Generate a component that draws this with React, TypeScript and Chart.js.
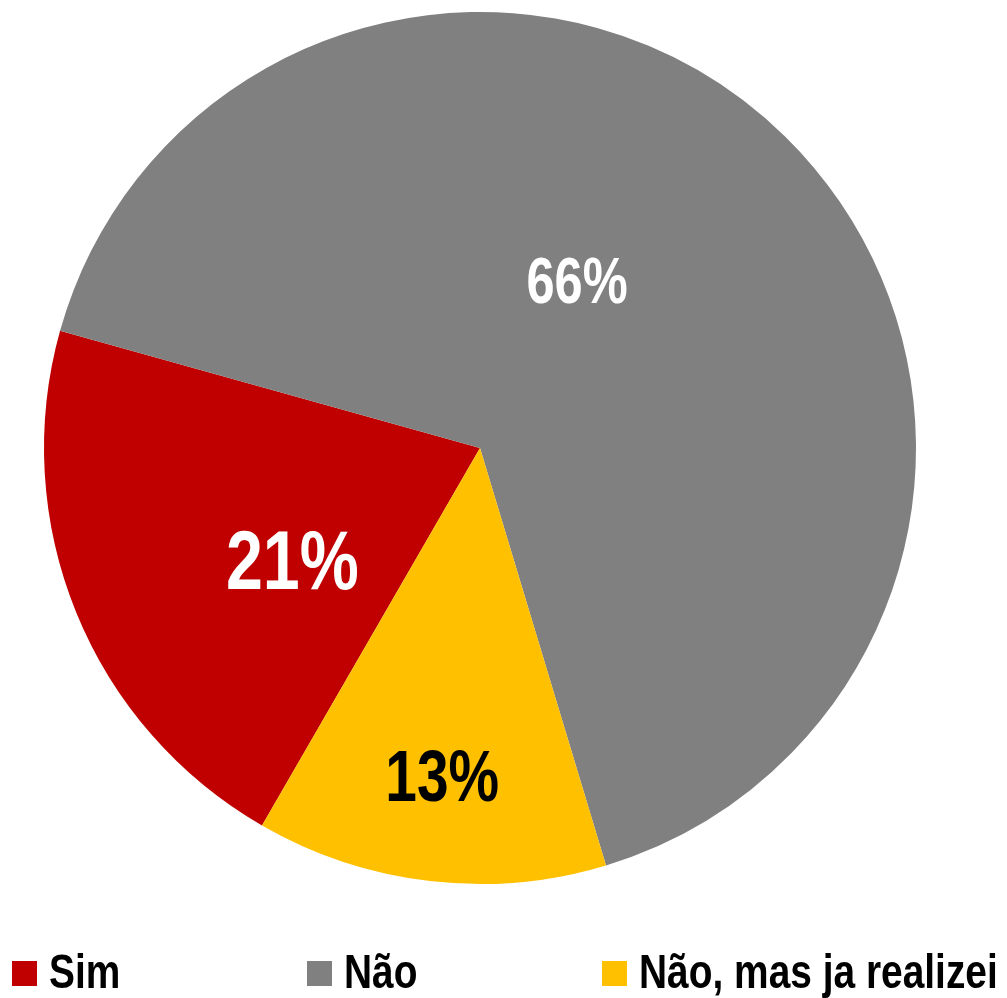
import React, { useEffect, useRef } from "react";
import { Chart, registerables } from "chart.js";

Chart.register(...registerables);

const categories = ["Sim", "Não", "Não, mas ja realizei"];
const values = [21, 66, 13];
const valueLabels = ["21%", "66%", "13%"];
const sliceColors = ["#C00000", "#808080", "#FFC000"];
const labelColors = ["#FFFFFF", "#FFFFFF", "#000000"];
const labelFontSizes = [84, 64, 72];
const labelRadiusFrac = [0.5, 0.445, 0.755];
const labelAngleShiftDeg = [-8.4, -14.4, 0];

const FONT = '"Liberation Sans Narrow", "Arial Narrow", "Liberation Sans", Arial, sans-serif';
const NARROW = 0.79;
const LEGEND_NARROW = 0.81;

const labelPlugin = {
  id: "sliceLabels",
  afterDatasetsDraw(chart: any) {
    const ctx = chart.ctx;
    const meta = chart.getDatasetMeta(0);
    meta.data.forEach((arc: any, i: number) => {
      const p = arc.getProps(["x", "y", "startAngle", "endAngle", "outerRadius"], true);
      const mid = (p.startAngle + p.endAngle) / 2 + (labelAngleShiftDeg[i] * Math.PI) / 180;
      const r = p.outerRadius * labelRadiusFrac[i];
      const x = p.x + Math.cos(mid) * r;
      const y = p.y + Math.sin(mid) * r;
      ctx.save();
      ctx.font = `bold ${labelFontSizes[i]}px ${FONT}`;
      ctx.fillStyle = labelColors[i];
      ctx.textAlign = "center";
      ctx.textBaseline = "alphabetic";
      ctx.translate(x, y + labelFontSizes[i] * 0.716 / 2);
      ctx.scale(NARROW, 1);
      ctx.fillText(valueLabels[i], 0, 0);
      ctx.restore();
    });
  },
};

const legendPlugin = {
  id: "bottomLegend",
  afterDraw(chart: any) {
    const ctx = chart.ctx;
    const labels = chart.data.labels as string[];
    const colors = chart.data.datasets[0].backgroundColor as string[];
    const startX = 12;
    const spacing = 295;
    const boxSize = 25;
    const boxTop = 961;
    const baseline = 988;
    labels.forEach((lab, i) => {
      const x = startX + i * spacing;
      ctx.save();
      ctx.fillStyle = colors[i];
      ctx.fillRect(x, boxTop, boxSize, boxSize);
      ctx.font = `bold 48px ${FONT}`;
      ctx.textAlign = "left";
      ctx.textBaseline = "alphabetic";
      ctx.fillStyle = "#000000";
      ctx.translate(x + 37, baseline);
      ctx.scale(LEGEND_NARROW, 1);
      ctx.fillText(lab, 0, 0);
      ctx.restore();
    });
  },
};

export default function App() {
  const ref = useRef<HTMLCanvasElement>(null);
  useEffect(() => {
    if (!ref.current) return;
    const chart = new Chart(ref.current, {
      type: "pie",
      data: {
        labels: categories,
        datasets: [
          {
            data: values,
            backgroundColor: sliceColors,
            borderWidth: 0,
          },
        ],
      },
      options: {
        responsive: false,
        animation: false,
        rotation: 210,
        layout: { padding: { left: 44, right: 91, top: 12, bottom: 114 } },
        plugins: {
          legend: { display: false },
          tooltip: { enabled: false },
        },
      },
      plugins: [labelPlugin, legendPlugin],
    });
    return () => chart.destroy();
  }, []);
  return (
    <div style={{ position: "absolute", left: 0, top: 0, width: 1007, height: 998, background: "#fff" }}>
      <canvas ref={ref} width={1007} height={998} style={{ display: "block" }} />
    </div>
  );
}
